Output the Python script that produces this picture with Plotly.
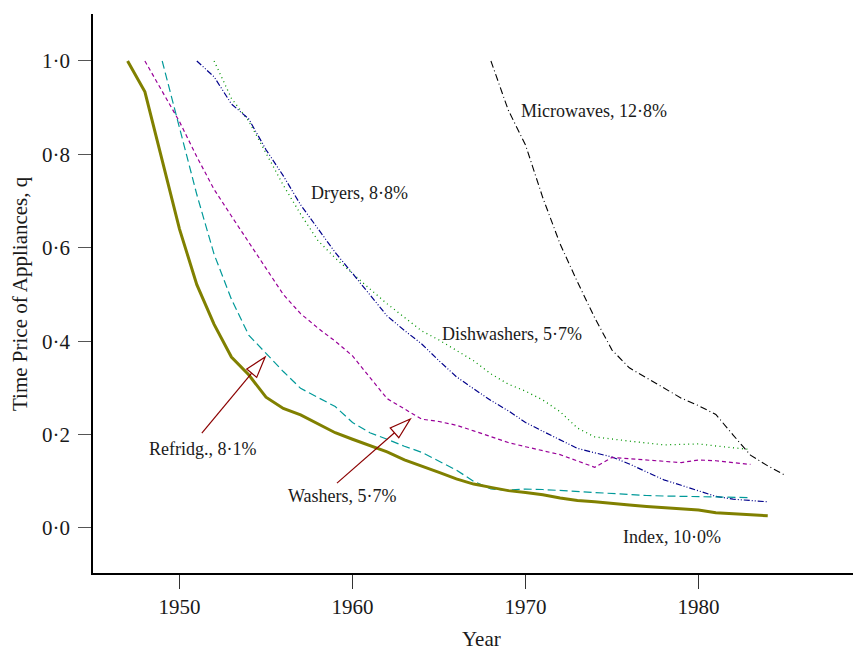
import plotly.graph_objects as go
import numpy as np

# ---------------- data ----------------
index_years = list(range(1947, 1985))
index_vals = [1.0, 0.934, 0.787, 0.64, 0.521, 0.436, 0.366, 0.328, 0.28, 0.256,
              0.242, 0.223, 0.204, 0.19, 0.176, 0.163, 0.146, 0.133, 0.119, 0.105,
              0.094, 0.087, 0.080, 0.076, 0.071, 0.064, 0.059, 0.056, 0.052, 0.049,
              0.046, 0.043, 0.041, 0.0385, 0.0325, 0.030, 0.028, 0.026]

refrig_years = list(range(1949, 1984))
refrig_vals = [1.0, 0.859, 0.714, 0.586, 0.49, 0.413, 0.373, 0.335, 0.299, 0.28,
               0.26, 0.226, 0.204, 0.19, 0.175, 0.162, 0.143, 0.124, 0.100, 0.0835,
               0.081, 0.0833, 0.0824, 0.080, 0.0777, 0.0756, 0.073, 0.071, 0.0696, 0.0685,
               0.0675, 0.0664, 0.066, 0.0653, 0.065]

washer_years = list(range(1948, 1984))
washer_vals = [1.0, 0.936, 0.87, 0.795, 0.725, 0.668, 0.612, 0.555, 0.50, 0.459,
               0.428, 0.40, 0.3685, 0.3225, 0.277, 0.255, 0.233, 0.228, 0.22, 0.208,
               0.1955, 0.183, 0.174, 0.166, 0.157, 0.1435, 0.130, 0.151, 0.148, 0.146,
               0.143, 0.140, 0.1456, 0.144, 0.140, 0.136]

dryer_years = list(range(1951, 1985))
dryer_vals = [1.0, 0.966, 0.908, 0.876, 0.81, 0.754, 0.692, 0.642, 0.59, 0.545,
              0.499, 0.454, 0.423, 0.394, 0.358, 0.324, 0.298, 0.273, 0.251, 0.226,
              0.207, 0.188, 0.1705, 0.161, 0.152, 0.137, 0.12, 0.103, 0.0914, 0.0797,
              0.0677, 0.0617, 0.0582, 0.056]

dish_years = list(range(1952, 1984))
dish_vals = [1.0, 0.92, 0.8715, 0.802, 0.734, 0.672, 0.6156, 0.578, 0.544, 0.512,
             0.48, 0.452, 0.422, 0.4026, 0.3805, 0.358, 0.33, 0.308, 0.293, 0.274,
             0.249, 0.214, 0.195, 0.19, 0.186, 0.182, 0.178, 0.179, 0.18, 0.1756,
             0.171, 0.168]

micro_years = list(range(1968, 1986))
micro_vals = [1.0, 0.895, 0.82, 0.707, 0.608, 0.527, 0.45, 0.381, 0.343, 0.321,
              0.30, 0.278, 0.262, 0.243, 0.199, 0.156, 0.133, 0.113]

x_ticks = [1950, 1960, 1970, 1980]
y_ticks = [0.0, 0.2, 0.4, 0.6, 0.8, 1.0]
y_tick_text = ["0·0", "0·2", "0·4", "0·6", "0·8", "1·0"]

# ---------------- layout constants ----------------
# the page body adds an 8px offset, so the figure is 8px smaller and shifted
W, H = 853, 643
ML, MR, MT, MB = 85, 0, 6, 78
X_RANGE = [1945.0, 1989.39]
Y_RANGE = [-0.0964, 1.1006]
FONT = "Liberation Serif, Times New Roman, serif"
TXT = "#1a1a1a"
FS = 18      # in-plot labels
FS_AX = 21   # tick labels and axis titles

fig = go.Figure()

def add(xs, ys, color, width, dash, name):
    fig.add_trace(go.Scatter(x=xs, y=ys, mode="lines", name=name,
                             line=dict(color=color, width=width, dash=dash),
                             showlegend=False, hoverinfo="x+y"))

add(micro_years, micro_vals, "#000000", 1.1, "7px,3px,1px,3px", "Microwaves")
add(dish_years, dish_vals, "#009400", 1.3, "1px,3.5px", "Dishwashers")
add(dryer_years, dryer_vals, "#00008B", 1.2, "6px,2px,1px,2px,1px,2px", "Dryers")
add(washer_years, washer_vals, "#990099", 1.2, "4px,3px", "Washers")
add(refrig_years, refrig_vals, "#009999", 1.2, "8px,4px", "Refrigerators")
add(index_years, index_vals, "#808000", 3, "solid", "Index")

# pixel <-> data helpers for arrow heads
pw = W - ML - MR
ph = H - MT - MB
sx = pw / (X_RANGE[1] - X_RANGE[0])
sy = ph / (Y_RANGE[1] - Y_RANGE[0])

def arrow(tail, tip, color="#8B0000", head_len=21, head_half=6.5):
    tx, ty = tail
    hx, hy = tip
    dxp = (hx - tx) * sx
    dyp = (hy - ty) * sy
    L = np.hypot(dxp, dyp)
    ux, uy = dxp / L, dyp / L
    bx = hx - ux * head_len / sx
    by = hy - uy * head_len / sy
    px_, py_ = -uy, ux
    c1 = (bx + px_ * head_half / sx, by + py_ * head_half / sy)
    c2 = (bx - px_ * head_half / sx, by - py_ * head_half / sy)
    fig.add_shape(type="line", x0=tx, y0=ty, x1=bx, y1=by,
                  line=dict(color=color, width=1.2), layer="above")
    path = f"M {hx},{hy} L {c1[0]},{c1[1]} L {c2[0]},{c2[1]} Z"
    fig.add_shape(type="path", path=path, fillcolor="white",
                  line=dict(color=color, width=1.2), layer="above")

arrow((1951.29, 0.203), (1954.95, 0.366))
arrow((1959.10, 0.096), (1963.34, 0.2334))

labels = [
    ("Microwaves, 12·8%", 1969.6, 0.893),
    ("Dryers, 8·8%", 1957.5, 0.717),
    ("Dishwashers, 5·7%", 1965.07, 0.415),
    ("Refridg., 8·1%", 1948.14, 0.169),
    ("Washers, 5·7%", 1956.17, 0.0685),
    ("Index, 10·0%", 1975.54, -0.019),
]
for txt, lx, ly in labels:
    fig.add_annotation(x=lx, y=ly, text=txt, showarrow=False, xanchor="left",
                       yanchor="middle", font=dict(family=FONT, size=FS, color=TXT))

# axis titles as paper annotations (figure pixel positions)
fig.add_annotation(xref="paper", yref="paper", x=(473 - ML) / pw, y=(H - MB - 631) / ph,
                   text="Year", showarrow=False, xanchor="center", yanchor="middle",
                   font=dict(family=FONT, size=FS_AX, color=TXT))
fig.add_annotation(xref="paper", yref="paper", x=(12 - ML) / pw, y=(H - MB - 286) / ph,
                   text="Time Price of Appliances, q", showarrow=False, textangle=-90,
                   xanchor="center", yanchor="middle",
                   font=dict(family=FONT, size=FS_AX, color=TXT))

fig.update_layout(
    width=W, height=H,
    margin=dict(l=ML, r=MR, t=MT, b=MB, pad=0, autoexpand=False),
    paper_bgcolor="white", plot_bgcolor="white",
    font=dict(family=FONT, size=FS, color=TXT),
    showlegend=False,
)
fig.update_xaxes(
    range=X_RANGE, tickvals=x_ticks, ticktext=[str(v) for v in x_ticks],
    showgrid=False, zeroline=False, showline=True, linecolor="black", linewidth=1.8,
    ticks="outside", ticklen=14, tickwidth=1, tickcolor="#333333",
    ticklabelstandoff=0, automargin=False,
    tickfont=dict(family=FONT, size=FS_AX, color=TXT),
)
fig.update_yaxes(
    range=Y_RANGE, tickvals=y_ticks, ticktext=y_tick_text,
    showgrid=False, zeroline=False, showline=True, linecolor="black", linewidth=1.8,
    ticks="outside", ticklen=13, tickwidth=1, tickcolor="#555555",
    ticklabelstandoff=4, automargin=False,
    tickfont=dict(family=FONT, size=FS_AX, color=TXT),
)

fig.write_html("out.html")
